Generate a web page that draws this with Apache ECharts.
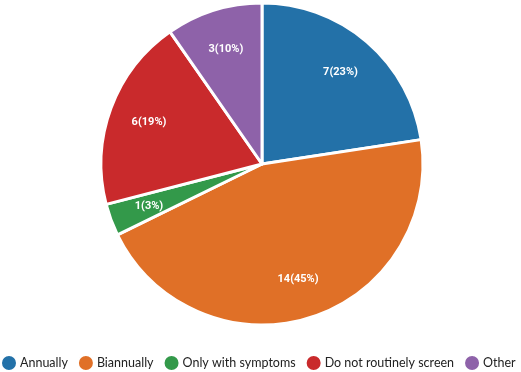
<!DOCTYPE html>
<html><head><meta charset="utf-8">
<script src="https://cdn.jsdelivr.net/npm/echarts@6/dist/echarts.min.js"></script>
<style>html,body{margin:0;padding:0;background:#fff}#c{width:521px;height:372px}</style>
</head><body><div id="c"></div>
<script>
const categories = ['Annually', 'Biannually', 'Only with symptoms', 'Do not routinely screen', 'Other'];
const values = [7, 14, 1, 6, 3];
const colors = ['#2371a8', '#e07027', '#33994a', '#c92a2c', '#8e62a9'];
const total = values.reduce((a, b) => a + b, 0);
const data = categories.map((n, i) => ({ name: n, value: values[i] }));
const chart = echarts.init(document.getElementById('c'));
chart.setOption({
  animation: false,
  color: colors,
  legend: {
    top: 354, left: 0, width: 600, padding: 0, itemGap: 9, itemWidth: 16, itemHeight: 16, icon: 'circle',
    textStyle: { fontFamily: 'Lato', fontSize: 12.5, color: '#222', padding: [0, 0, 0, -2] },
    data: categories
  },
  series: [{
    type: 'pie', center: [262, 164], radius: [0, 161], startAngle: 90, clockwise: true,
    itemStyle: { borderColor: '#fff', borderWidth: 3 },
    label: { show: false }, labelLine: { show: false },
    data: data
  }, {
    type: 'pie', center: [262, 164], radius: [74, 161], startAngle: 90, clockwise: true,
    silent: true, legendHoverLink: false,
    itemStyle: { color: 'rgba(0,0,0,0)', borderWidth: 0 },
    label: {
      show: true, position: 'inside', color: '#fff', fontFamily: 'Liberation Sans Narrow, Roboto', fontWeight: 'bold', fontSize: 11,
      formatter: p => p.value + '(' + Math.round(p.value / total * 100) + '%)'
    },
    labelLine: { show: false },
    data: data
  }]
});
</script></body></html>
